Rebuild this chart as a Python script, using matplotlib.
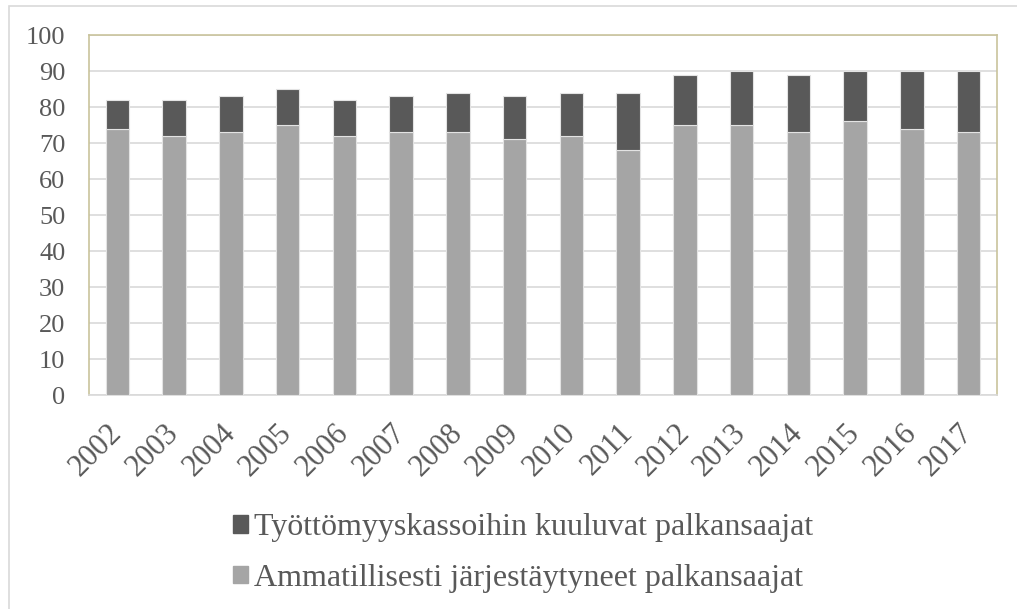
import numpy as np
import matplotlib.pyplot as plt
from matplotlib.patches import Rectangle

plt.rcParams['font.family'] = ['Liberation Serif', 'DejaVu Serif']

years = ['2002', '2003', '2004', '2005', '2006', '2007', '2008', '2009',
         '2010', '2011', '2012', '2013', '2014', '2015', '2016', '2017']
ammatillisesti = [74, 72, 73, 75, 72, 73, 73, 71, 72, 68, 75, 75, 73, 76, 74, 73]
kokonais = [82, 82, 83, 85, 82, 83, 84, 83, 84, 84, 89, 90, 89, 90, 90, 90]
tyottomyyskassa = [k - a for k, a in zip(kokonais, ammatillisesti)]

label_top = 'Työttömyyskassoihin kuuluvat palkansaajat'
label_bottom = 'Ammatillisesti järjestäytyneet palkansaajat'

dark = '#595959'
light = '#a5a5a5'
text_col = '#595959'

fig = plt.figure(figsize=(10.17, 6.09), dpi=100)
ax = fig.add_axes([89 / 1017, 1 - 395 / 609, 908 / 1017, 360 / 609])

x = np.arange(len(years))
ax.bar(x, ammatillisesti, width=0.41, color=light, edgecolor='#e3e3e3',
       linewidth=0.8, zorder=3)
ax.bar(x, tyottomyyskassa, bottom=ammatillisesti, width=0.41, color=dark,
       edgecolor='#e3e3e3', linewidth=0.8, zorder=3)

ax.set_xlim(-0.5, len(years) - 0.5)
ax.set_ylim(0, 100)
ax.set_yticks(range(0, 101, 10))
ax.yaxis.grid(True, color='#d9d9d9', linewidth=1.2, zorder=0)
ax.set_axisbelow(True)

for side in ['left', 'top', 'right']:
    ax.spines[side].set_color('#c9c39c')
    ax.spines[side].set_linewidth(1.2)
ax.spines['bottom'].set_color('#d9d9d9')
ax.spines['bottom'].set_linewidth(1.2)

ax.tick_params(axis='both', length=0, colors=text_col)
ax.tick_params(axis='y', labelsize=19, pad=17)
ax.set_xticks(x)
ax.set_xticklabels(years, rotation=45, ha='right', va='center',
                   rotation_mode='anchor', fontsize=22, color=text_col)
ax.tick_params(axis='x', pad=24)

# legend below
h_top = Rectangle((0, 0), 1, 1, color=dark)
h_bot = Rectangle((0, 0), 1, 1, color=light)
fig.legend([h_top, h_bot], [label_top, label_bottom], loc='center',
           bbox_to_anchor=(523 / 1017, 1 - 553 / 609), frameon=False,
           fontsize=23, labelcolor=text_col, handlelength=0.48,
           handleheight=0.48, handletextpad=0.2, labelspacing=0.68)

# outer chart border
fig.add_artist(Rectangle((9 / 1017, -0.01), 1.0, 1 - 6 / 609 + 0.01,
                         transform=fig.transFigure, fill=False,
                         edgecolor='#d9d9d9', linewidth=1.2))

fig.savefig('out.png', dpi=100)
